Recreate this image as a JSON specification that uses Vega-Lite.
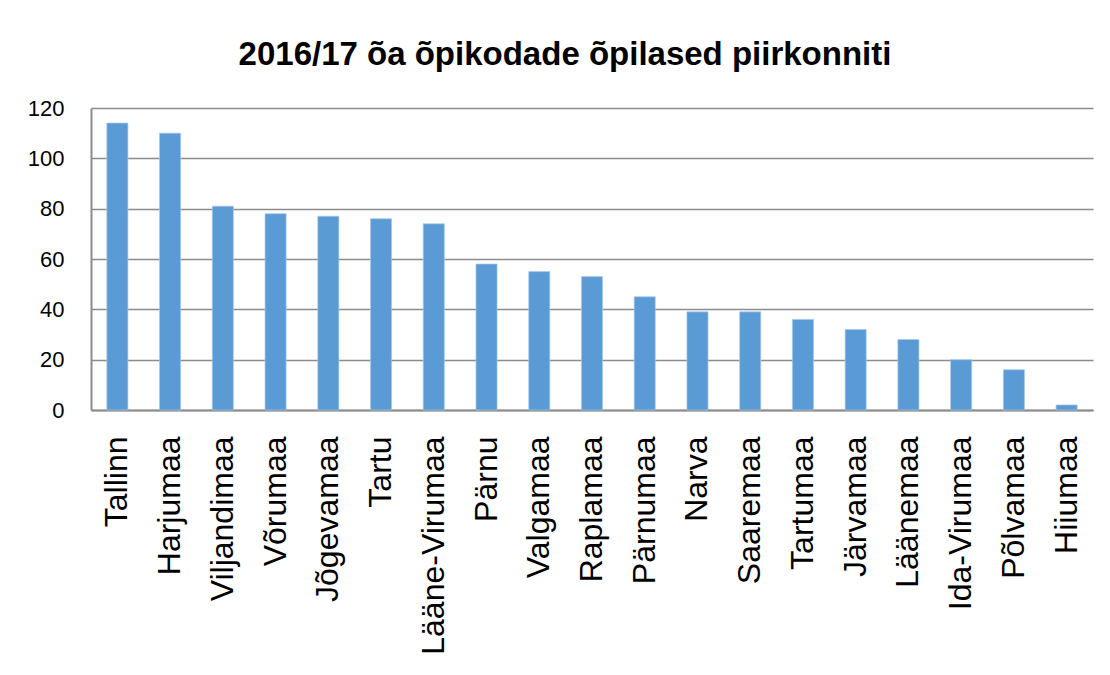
{
  "$schema": "https://vega.github.io/schema/vega-lite/v6.json",
  "width": 1002,
  "height": 302,
  "autosize": {"type": "none"},
  "padding": {"left": 91, "top": 108, "right": 17, "bottom": 264},
  "background": "white",
  "title": {
    "text": "2016/17 õa õpikodade õpilased piirkonniti",
    "font": "Liberation Sans",
    "fontSize": 33,
    "fontWeight": "bold",
    "color": "#000000",
    "anchor": "middle",
    "baseline": "alphabetic",
    "offset": -1,
    "dx": -27
  },
  "data": {
    "values": [
      {"piirkond": "Tallinn", "opilasi": 114},
      {"piirkond": "Harjumaa", "opilasi": 110},
      {"piirkond": "Viljandimaa", "opilasi": 81},
      {"piirkond": "Võrumaa", "opilasi": 78},
      {"piirkond": "Jõgevamaa", "opilasi": 77},
      {"piirkond": "Tartu", "opilasi": 76},
      {"piirkond": "Lääne-Virumaa", "opilasi": 74},
      {"piirkond": "Pärnu", "opilasi": 58},
      {"piirkond": "Valgamaa", "opilasi": 55},
      {"piirkond": "Raplamaa", "opilasi": 53},
      {"piirkond": "Pärnumaa", "opilasi": 45},
      {"piirkond": "Narva", "opilasi": 39},
      {"piirkond": "Saaremaa", "opilasi": 39},
      {"piirkond": "Tartumaa", "opilasi": 36},
      {"piirkond": "Järvamaa", "opilasi": 32},
      {"piirkond": "Läänemaa", "opilasi": 28},
      {"piirkond": "Ida-Virumaa", "opilasi": 20},
      {"piirkond": "Põlvamaa", "opilasi": 16},
      {"piirkond": "Hiiumaa", "opilasi": 2}
    ]
  },
  "mark": {"type": "bar", "color": "#5B9BD5", "stroke": "#a8c8ea", "strokeWidth": 0.7},
  "encoding": {
    "x": {
      "field": "piirkond",
      "type": "nominal",
      "sort": null,
      "scale": {"paddingInner": 0.6, "paddingOuter": 0.3},
      "axis": {
        "title": null,
        "labelAngle": -90,
        "labelFont": "Liberation Sans",
        "labelFontSize": 32,
        "labelColor": "#000000",
        "labelPadding": 26,
        "ticks": false,
        "domainColor": "#8c8c8c",
        "domainWidth": 2,
        "labelLimit": 400
      }
    },
    "y": {
      "field": "opilasi",
      "type": "quantitative",
      "scale": {"domain": [0, 120], "nice": false},
      "axis": {
        "title": null,
        "values": [0, 20, 40, 60, 80, 100, 120],
        "labelFont": "Liberation Sans",
        "labelFontSize": 22,
        "labelColor": "#000000",
        "labelPadding": 27,
        "ticks": false,
        "domainColor": "#8c8c8c",
        "domainWidth": 2,
        "gridColor": "#8c8c8c",
        "gridWidth": 1.5
      }
    }
  },
  "config": {
    "view": {"stroke": null}
  }
}
